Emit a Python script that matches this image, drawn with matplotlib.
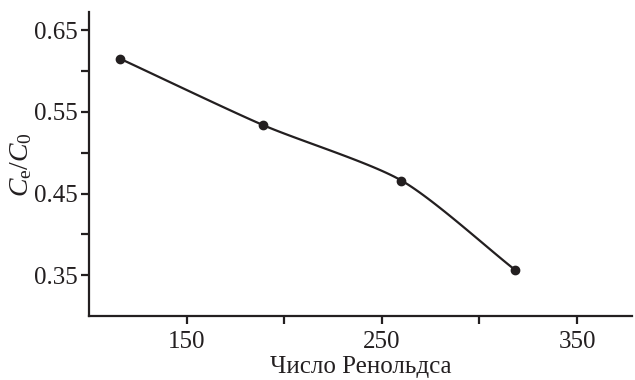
import matplotlib
matplotlib.use("Agg")
import matplotlib.pyplot as plt
from matplotlib.ticker import FixedLocator
import numpy as np

plt.rcParams['font.family'] = ['Liberation Serif', 'DejaVu Serif']
plt.rcParams['mathtext.fontset'] = 'custom'
plt.rcParams['mathtext.rm'] = 'Liberation Serif'
plt.rcParams['mathtext.it'] = 'Liberation Serif:italic'

reynolds = [116, 189, 260, 318]
ratio = [0.615, 0.534, 0.466, 0.357]


def cardinal(xs, ys, tension=0.75, n=30):
    # smooth curve drawn through the measured points
    px = np.array([2 * xs[0] - xs[1]] + list(xs) + [2 * xs[-1] - xs[-2]], float)
    py = np.array([2 * ys[0] - ys[1]] + list(ys) + [2 * ys[-1] - ys[-2]], float)
    t = np.linspace(0, 1, n)
    h00 = 2 * t ** 3 - 3 * t ** 2 + 1
    h10 = t ** 3 - 2 * t ** 2 + t
    h01 = -2 * t ** 3 + 3 * t ** 2
    h11 = t ** 3 - t ** 2
    cx, cy = [], []
    for i in range(1, len(px) - 2):
        for p, out in ((px, cx), (py, cy)):
            m1 = tension * (p[i + 1] - p[i - 1]) / 2
            m2 = tension * (p[i + 2] - p[i]) / 2
            out.extend(h00 * p[i] + h10 * m1 + h01 * p[i + 1] + h11 * m2)
    return cx, cy


fig = plt.figure(figsize=(6.35, 3.8), dpi=100)
ax = fig.add_axes([0.140, 0.168, 0.855, 0.800])

sx, sy = cardinal(reynolds, ratio)
ax.plot(sx, sy, color='#231f20', lw=1.6)
ax.plot(reynolds, ratio, 'o', color='#231f20', ms=6)

ax.set_xlim(100, 378)
ax.set_ylim(0.30, 0.672)
ax.set_xticks([150, 250, 350])
ax.xaxis.set_minor_locator(FixedLocator([200, 300]))
ax.set_yticks([0.35, 0.45, 0.55, 0.65])
ax.set_yticklabels(['0.35', '0.45', '0.55', '0.65'])
ax.yaxis.set_minor_locator(FixedLocator([0.40, 0.50, 0.60]))

for s in ['top', 'right']:
    ax.spines[s].set_visible(False)
for s in ['left', 'bottom']:
    ax.spines[s].set_linewidth(1.6)
    ax.spines[s].set_color('#231f20')

ax.tick_params(which='both', direction='out', length=6, width=1.6,
               color='#231f20', labelsize=18, labelcolor='#231f20')
ax.tick_params(axis='x', pad=5)
ax.tick_params(axis='y', pad=2)

ax.set_xlabel('Число Ренольдса', fontsize=18, color='#231f20', labelpad=2)
ax.set_ylabel(r'$C_\mathrm{e}/C_0$', fontsize=20, color='#231f20', labelpad=0)

fig.savefig('out.png', dpi=100)
